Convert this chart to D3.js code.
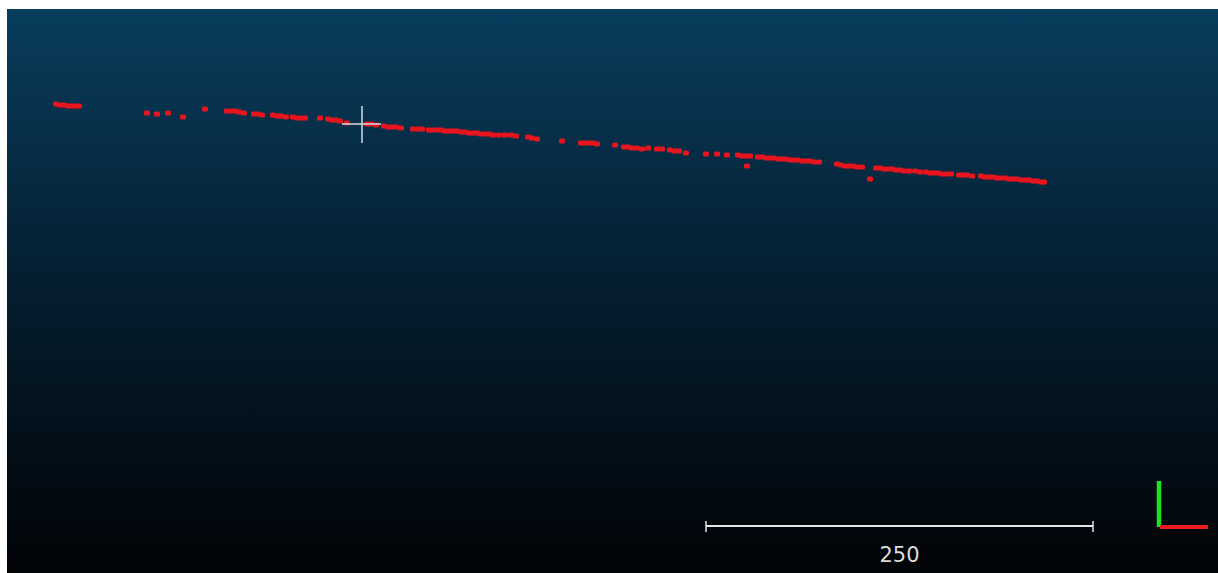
<!DOCTYPE html>
<html>
<head>
<meta charset="utf-8">
<script src="https://cdn.jsdelivr.net/npm/d3@7"></script>
<style>
	html, body { margin: 0; padding: 0; background: #ffffff; overflow: hidden; }
	#viewContainer { width: 1218px; height: 573px; }
</style>
</head>
<body>
<div id="viewContainer"></div>
<script>

// profile points: distance along section (X) and elevation (Z), world units
let pointX = [
	0.6, 3.2, 5.8, 8.4, 11.0, 13.6, 15.5,
	59.4, 65.9, 73.0, 82.7, 96.9,
	111.1, 113.7, 116.3, 118.9, 122.1, 128.6, 131.1, 133.7, 140.8, 143.4, 146.0, 149.2,
	153.7, 156.3, 158.9, 161.5, 171.2, 176.4, 178.9, 181.5, 184.1,
	188.6, 201.6, 204.1, 207.4, 212.5, 215.1, 217.7, 220.3, 223.5, 231.3, 234.5, 237.1,
	241.6, 244.2, 246.8, 249.4, 251.9, 254.5, 257.1, 259.7, 262.3, 264.9, 267.4, 270.0,
	272.6, 275.2, 277.8, 280.4, 282.9, 286.8, 290.7, 294.6, 297.8, 305.6, 308.1, 311.4,
	327.5, 339.8, 342.4, 345.0, 347.5, 350.1,
	361.8, 367.6, 370.2, 372.7, 376.0, 379.2, 383.1, 388.9, 392.1, 397.3, 400.5, 403.1,
	407.6, 420.5, 427.7, 434.1, 441.2, 443.8, 446.4, 449.0, 447.0, 454.1, 456.7, 459.3,
	461.9, 464.5, 467.1, 469.6, 472.2, 474.8, 477.4, 480.0, 482.6, 485.1, 487.7, 490.3,
	493.5, 505.2,
	507.8, 510.3, 512.9, 515.5, 518.1, 521.3, 526.5, 530.4, 533.0, 535.5, 538.1, 540.7,
	543.3, 545.9, 548.5, 551.7, 555.6, 558.8, 562.7, 565.3, 567.8, 570.4, 573.0, 575.6,
	578.8, 584.0, 586.6, 589.2, 592.4, 598.2, 600.8, 603.4, 605.9, 608.5, 611.1, 613.7,
	616.3, 618.9, 621.5, 624.0, 626.6, 629.2, 631.8, 634.4, 637.0, 638.9
];

let pointZ = [
	55.6, 54.9, 54.9, 54.3, 54.3, 54.3, 54.3,
	49.7, 49.1, 49.7, 47.2, 52.3,
	51.0, 51.0, 51.0, 50.4, 49.7, 49.1, 49.1, 48.5, 48.5, 47.8, 47.8, 47.2,
	47.2, 46.5, 46.5, 46.5, 46.5, 45.9, 45.2, 45.2, 44.6,
	43.3, 42.6, 42.6, 42.0, 41.3, 40.7, 40.7, 40.7, 40.1, 39.4, 39.4, 39.4,
	38.8, 38.8, 38.8, 38.8, 38.1, 38.1, 38.1, 38.1, 37.5, 37.5, 36.8, 36.8,
	36.8, 36.2, 36.2, 36.2, 35.5, 35.5, 35.5, 35.5, 34.9, 34.2, 33.6, 32.9,
	31.7, 30.4, 30.4, 30.4, 30.4, 29.7,
	29.1, 27.8, 27.8, 27.1, 27.1, 26.5, 27.1, 26.5, 26.5, 25.8, 25.2, 25.2,
	23.9, 23.3, 23.3, 22.6, 22.6, 22.0, 22.0, 22.0, 15.5, 21.3, 21.3, 20.7,
	20.7, 20.7, 20.0, 20.0, 20.0, 19.4, 19.4, 19.4, 18.7, 18.7, 18.7, 18.1,
	18.1, 16.8,
	16.2, 15.5, 15.5, 15.5, 14.9, 14.9, 7.1, 14.2, 14.2, 13.6, 13.6, 13.6,
	12.9, 12.9, 12.3, 12.3, 12.3, 11.6, 11.6, 11.0, 11.0, 11.0, 10.3, 10.3,
	10.3, 9.7, 9.7, 9.7, 9.0, 9.0, 8.4, 8.4, 8.4, 7.8, 7.8, 7.8,
	7.1, 7.1, 7.1, 6.5, 6.5, 6.5, 5.8, 5.8, 5.2, 5.2
];

let scaleBarLength = 250,
	scaleBarLabel 	= "250";

function draw () {

	let canvasWidth 	= 1218,
		canvasHeight 	= 573,
		viewLeft 		= 7,
		viewTop 		= 9,
		pxPerUnit 		= 1.548;

	let svg = d3.select("#viewContainer")
		.append("svg")
			.attr("width", canvasWidth)
			.attr("height", canvasHeight);

	// background gradient (top blue -> black)
	let grad = svg.append("defs")
		.append("linearGradient")
			.attr("id", "bgGrad")
			.attr("x1", 0).attr("y1", 0)
			.attr("x2", 0).attr("y2", 1);

	grad.append("stop").attr("offset", "0%").attr("stop-color", "#083d5d");
	grad.append("stop").attr("offset", "45%").attr("stop-color", "#052033");
	grad.append("stop").attr("offset", "100%").attr("stop-color", "#010306");

	svg.append("rect")
		.attr("x", viewLeft)
		.attr("y", viewTop)
		.attr("width", canvasWidth - viewLeft)
		.attr("height", canvasHeight - viewTop)
		.attr("fill", "url(#bgGrad)");

	// world -> screen
	let xScale = d3.scaleLinear()
		.domain([0, 100])
		.range([55, 55 + 100 * pxPerUnit]);

	let yScale = d3.scaleLinear()
		.domain([0, 100])
		.range([190, 190 - 100 * pxPerUnit]);

	let points = pointX.map(function (x, i) { return [x, pointZ[i]]; });

	svg.append("g")
		.selectAll("rect")
		.data(points)
			.enter()
				.append("rect")
					.attr("x", function (d) { return xScale(d[0]) - 3; })
					.attr("y", function (d) { return yScale(d[1]) - 2.5; })
					.attr("width", 6)
					.attr("height", 5)
					.attr("rx", 1.5)
					.style("fill", "#e8141e");

	// picking cursor
	let cx = 362, cy = 124;

	svg.append("line")
		.attr("x1", cx - 20).attr("x2", cx + 19)
		.attr("y1", cy).attr("y2", cy)
		.attr("stroke", "#d6dde6")
		.attr("stroke-width", 1.5);

	svg.append("line")
		.attr("x1", cx).attr("x2", cx)
		.attr("y1", cy - 18).attr("y2", cy + 19)
		.attr("stroke", "#d6dde6")
		.attr("stroke-width", 1.5);

	// scale bar
	let barPx 	= xScale(scaleBarLength) - xScale(0),
		barRight = 1093,
		barLeft = barRight - barPx,
		barY 	= 526;

	let bar = svg.append("g");

	bar.append("line")
		.attr("x1", barLeft).attr("x2", barRight)
		.attr("y1", barY).attr("y2", barY)
		.attr("stroke", "#e6e6e6")
		.attr("stroke-width", 2);

	bar.selectAll(".tick")
		.data([barLeft, barRight])
			.enter()
				.append("line")
					.attr("x1", function (d) { return d; })
					.attr("x2", function (d) { return d; })
					.attr("y1", barY - 5)
					.attr("y2", barY + 6)
					.attr("stroke", "#e6e6e6")
					.attr("stroke-width", 1.5);

	bar.append("text")
		.attr("x", (barLeft + barRight) / 2)
		.attr("y", 562)
		.attr("text-anchor", "middle")
		.style("font-family", "DejaVu Sans, sans-serif")
		.style("font-size", "21px")
		.style("fill", "#dcdcdc")
		.text(scaleBarLabel);

	// axis trihedron
	svg.append("line")
		.attr("x1", 1159).attr("x2", 1159)
		.attr("y1", 481).attr("y2", 527)
		.attr("stroke", "#1fe01f")
		.attr("stroke-width", 4.5);

	svg.append("line")
		.attr("x1", 1160).attr("x2", 1208)
		.attr("y1", 527).attr("y2", 527)
		.attr("stroke", "#ea1a1a")
		.attr("stroke-width", 4);
};

draw();

</script>
</body>
</html>
